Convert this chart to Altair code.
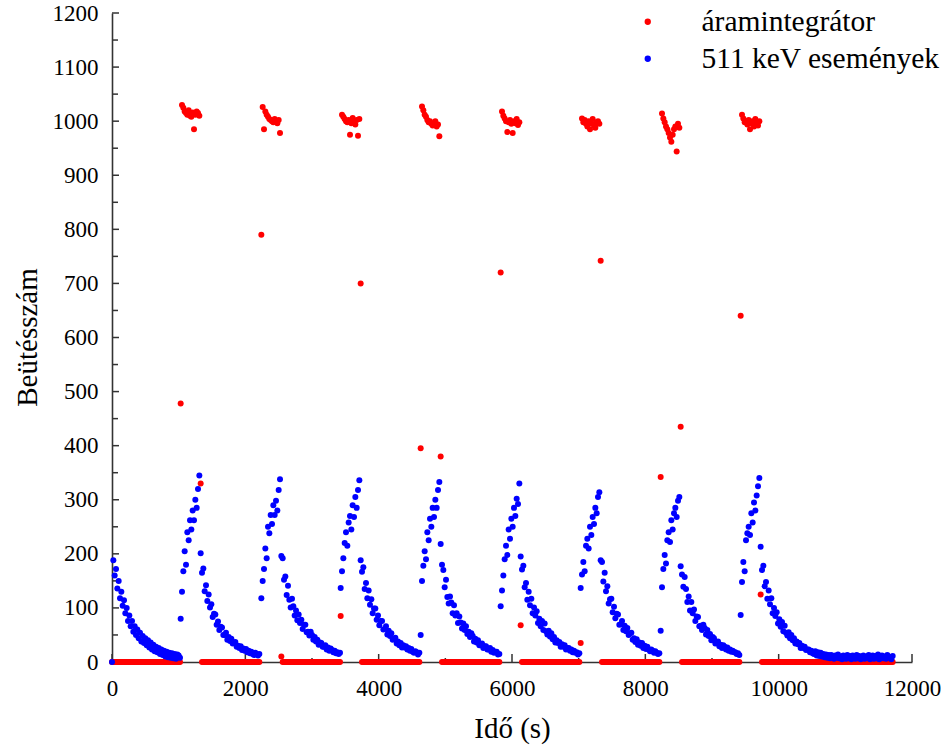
import altair as alt
import pandas as pd

SERIES = ["áramintegrátor", "511 keV események"]
COLORS = ["#ff0000", "#0000ff"]
STEP = 20  # sampling interval (s)

# ---- beam-off period before the first irradiation (t = 0 ...)
blue_decay0 = [0, 188, 160, 172, 136, 150, 118, 130, 104, 114,
               90, 100, 76, 86, 66, 76, 56, 66, 50, 60,
               44, 54, 38, 48, 35, 44, 31, 40, 27, 36,
               23, 32, 20, 28, 18, 26, 15, 23, 13, 21,
               10, 19, 9, 17, 8, 16, 7, 15, 6, 14,
               12, 8]
red_decay0 = [0] * len(blue_decay0)

# ---- irradiation (beam on) periods
cycle_start = [1030, 2240, 3430, 4630, 5830, 7030, 8230, 9430]
blue_rise = [
    [80, 130, 168, 205, 180, 240, 225, 262, 245, 280, 262, 300, 285, 320, 345],
    [118, 150, 172, 210, 192, 250, 238, 272, 255, 290, 272, 298, 280, 318, 338],
    [137, 168, 192, 220, 240, 215, 258, 270, 245, 290, 268, 305, 285, 318, 336],
    [50, 150, 178, 205, 190, 240, 225, 265, 250, 285, 268, 300, 285, 318, 333],
    [103, 132, 160, 190, 215, 198, 245, 228, 265, 250, 285, 270, 302, 292, 330],
    [137, 162, 185, 168, 215, 228, 210, 250, 235, 268, 255, 285, 275, 305, 314],
    [58, 138, 172, 198, 182, 225, 240, 222, 262, 245, 275, 285, 268, 298, 305],
    [87, 148, 185, 168, 225, 238, 250, 235, 275, 258, 295, 280, 308, 325, 340],
]
red_rise = [
    [478, 1030, 1025, 1018, 1015, 1012, 1020, 1010, 1008, 1016, 985, 1012, 1018, 1015, 1010],
    [790, 1026, 985, 1018, 1012, 1008, 1004, 1002, 1000, 998, 1004, 1000, 996, 1002, 978],
    [85, 1012, 1008, 1004, 1000, 998, 1002, 975, 996, 1006, 1000, 994, 1002, 973, 1004],
    [395, 1027, 1020, 1012, 1008, 1002, 998, 1000, 995, 992, 996, 1000, 990, 994, 972],
    [720, 1018, 1010, 1005, 1000, 980, 998, 1002, 995, 978, 1000, 996, 1004, 993, 998],
    [35, 1005, 998, 1002, 995, 990, 1000, 985, 996, 1004, 992, 988, 998, 1000, 995],
    [342, 1014, 1005, 998, 990, 985, 978, 970, 962, 975, 985, 990, 944, 995, 988],
    [640, 1012, 1005, 998, 1000, 994, 1002, 985, 996, 1000, 990, 1004, 998, 992, 1000],
]

# ---- beam-off (decay) periods after each irradiation
decay_start = [1330, 2540, 3730, 4930, 6130, 7330, 8530, 9730]
red_off_first = [330, 10, 700, 380, 68, 742, 435, 125]
blue_decay = [
    [201, 165, 173, 131, 142, 113, 125, 101, 107, 83, 89, 88, 69, 75, 59, 65, 64, 50, 50, 54,
     41, 46, 39, 43, 34, 36, 37, 28, 30, 26, 29, 22, 25, 21, 24, 18, 21, 16, 19, 15,
     13, 17, 15, 12, 15],
    [196, 192, 152, 158, 124, 141, 115, 101, 117, 103, 86, 95, 77, 88, 72, 78, 61, 69, 69, 55,
     56, 49, 56, 50, 41, 46, 38, 41, 32, 36, 35, 28, 28, 31, 23, 27, 21, 25, 22, 18,
     21, 16, 18, 15, 17],
    [188, 167, 175, 135, 146, 118, 132, 106, 116, 90, 99, 99, 78, 86, 68, 76, 76, 60, 61, 66,
     51, 58, 48, 53, 41, 43, 45, 34, 38, 31, 35, 27, 31, 27, 29, 23, 26, 21, 24, 19,
     17, 20, 18, 14, 17],
    [218, 180, 170, 138, 152, 120, 108, 121, 110, 90, 105, 86, 90, 72, 84, 73, 62, 71, 59, 66,
     52, 56, 46, 53, 48, 38, 43, 36, 40, 31, 31, 34, 26, 29, 29, 23, 23, 26, 19, 22,
     17, 19, 19, 14, 15],
    [195, 171, 178, 138, 146, 115, 130, 105, 117, 90, 101, 86, 94, 72, 80, 66, 76, 59, 71, 57,
     51, 58, 47, 53, 42, 46, 36, 40, 35, 37, 28, 33, 28, 31, 23, 26, 26, 21, 23, 18,
     21, 17, 18, 14, 16],
    [188, 185, 149, 165, 131, 140, 108, 116, 117, 92, 102, 81, 89, 88, 69, 70, 76, 59, 67, 57,
     63, 50, 53, 54, 41, 44, 37, 42, 32, 36, 30, 35, 26, 30, 24, 28, 23, 20, 23, 21,
     17, 20, 17, 15, 16],
    [177, 162, 139, 157, 135, 111, 121, 95, 111, 90, 97, 76, 84, 83, 66, 67, 59, 69, 63, 51,
     59, 48, 52, 40, 46, 44, 34, 35, 38, 29, 32, 26, 31, 28, 23, 27, 21, 23, 19, 21,
     18, 18, 15, 16, 13],
    [213, 170, 178, 140, 148, 117, 132, 107, 118, 90, 100, 85, 92, 71, 79, 65, 74, 57, 67, 54,
     49, 55, 44, 50, 40, 44, 34, 38, 33, 35, 26, 30, 26, 28, 22, 23, 23, 18, 21, 16,
     15, 20, 12, 18, 11, 17, 10, 15, 9, 14, 8, 13, 7, 13, 10, 6, 12, 8, 14, 7,
     10, 5, 12, 9, 6, 13, 7, 11, 5, 12, 9, 6, 13, 7, 11, 5, 9, 12, 6, 10,
     8, 13, 5, 9, 12, 6, 11, 7, 14, 5, 9, 12, 7, 10, 6, 13, 8, 9, 5, 11],
]

# axis tick values
x_major = [0, 2000, 4000, 6000, 8000, 10000, 12000]
x_minor = [1000, 3000, 5000, 7000, 9000, 11000]
y_major = [0, 100, 200, 300, 400, 500, 600, 700, 800, 900, 1000, 1100, 1200]
y_minor = [50, 150, 250, 350, 450, 550, 650, 750, 850, 950, 1050, 1150]

# ---- build table (red series first so blue is drawn on top)
segments = [(0, blue_decay0, red_decay0)]
for k in range(len(cycle_start)):
    segments.append((cycle_start[k], blue_rise[k], red_rise[k]))
    red_off = [red_off_first[k]] + [0] * (len(blue_decay[k]) - 1)
    segments.append((decay_start[k], blue_decay[k], red_off))

red_rows, blue_rows = [], []
for start, bvals, rvals in segments:
    for i, (b, r) in enumerate(zip(bvals, rvals)):
        t = start + i * STEP
        red_rows.append({"t": t, "v": r, "series": SERIES[0]})
        blue_rows.append({"t": t, "v": b, "series": SERIES[1]})
df = pd.DataFrame(red_rows + blue_rows)
df["k"] = range(len(df))

FONT = "Liberation Serif"
AX = "#333333"
xscale = alt.Scale(domain=[0, 12000], nice=False, zero=False)
yscale = alt.Scale(domain=[0, 1200], nice=False, zero=False)

x_axis = alt.Axis(
    values=x_major, format="d", title="Idő (s)", grid=False, ticks=False,
    labelFlush=False, labelOverlap=False,
    domainColor=AX, domainWidth=1.6, labelFont=FONT, labelFontSize=23,
    labelColor="black", labelPadding=15, titleFont=FONT, titleFontSize=29,
    titleFontWeight="normal", titleColor="black", titleX=400, titleY=75,
    titleBaseline="alphabetic", titleAlign="center")
y_axis = alt.Axis(
    values=y_major, format="d", title="Beütésszám", grid=False, ticks=False,
    labelFlush=False, labelOverlap=False,
    domainColor=AX, domainWidth=1.6, labelFont=FONT, labelFontSize=23,
    labelColor="black", labelPadding=14, titleFont=FONT, titleFontSize=29,
    titleFontWeight="normal", titleColor="black", titleAngle=270,
    titleX=-76, titleY=324, titleAlign="center", titleBaseline="alphabetic")

points = alt.Chart(df).mark_circle(size=36, opacity=1).encode(
    x=alt.X("t:Q", scale=xscale, axis=x_axis),
    y=alt.Y("v:Q", scale=yscale, axis=y_axis),
    color=alt.Color("series:N", scale=alt.Scale(domain=SERIES, range=COLORS),
                    legend=alt.Legend(title=None, orient="none", legendX=521, legendY=-6,
                                      labelFont=FONT, labelFontSize=29.5, labelColor="black",
                                      labelLimit=600, symbolSize=40, symbolType="circle",
                                      labelOffset=39, rowPadding=6, padding=0,
                                      symbolStrokeWidth=0)),
    order=alt.Order("k:Q"),
)

def yticks(vals, length):
    return alt.Chart(pd.DataFrame({"v": vals})).mark_rule(color=AX, strokeWidth=1.5).encode(
        y=alt.Y("v:Q", scale=yscale, axis=y_axis), x=alt.value(0), x2=alt.value(length))

def xticks(vals, length):
    return alt.Chart(pd.DataFrame({"t": vals})).mark_rule(color=AX, strokeWidth=1.5).encode(
        x=alt.X("t:Q", scale=xscale, axis=x_axis), y=alt.value(649), y2=alt.value(649 - length))

chart = alt.layer(
    yticks(y_major, 7), yticks(y_minor, 6), xticks(x_major, 8), xticks(x_minor, 4), points
).properties(
    width=800, height=649,
    autosize=alt.AutoSizeParams(type="none"),
    padding={"left": 112, "top": 13, "right": 39, "bottom": 83},
    background="white",
).configure_view(stroke=None)

chart.save("out.html", embed_options={"renderer": "svg", "actions": False})
